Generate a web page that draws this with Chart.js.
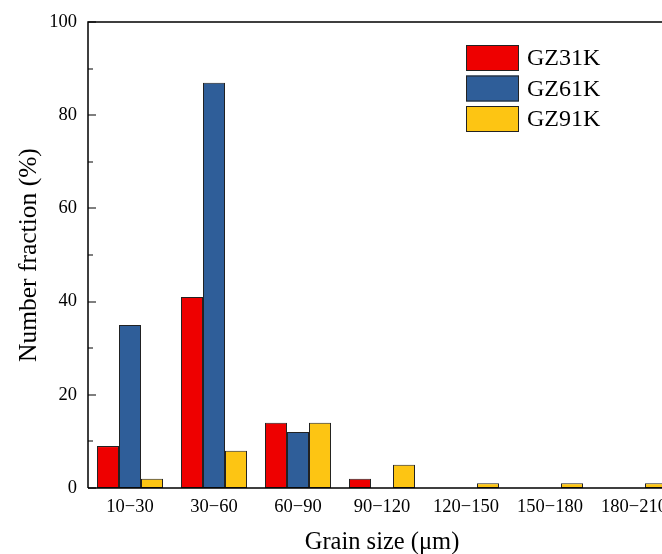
<!DOCTYPE html>
<html>
<head>
<meta charset="utf-8">
<script src="https://cdn.jsdelivr.net/npm/chart.js@4"></script>
<style>
  html, body { margin: 0; padding: 0; background: #fff; overflow: hidden; }
  #wrap { width: 700px; height: 554px; }
</style>
</head>
<body>
<div id="wrap"><canvas id="c" width="700" height="554"></canvas></div>
<script>
// grain size bins
const categories = ["10\u221230", "30\u221260", "60\u221290", "90\u2212120", "120\u2212150", "150\u2212180", "180\u2212210"];
const gz31k = [9, 41, 14, 2, 0, 0, 0];
const gz61k = [35, 87, 12, 0, 0, 0, 0];
const gz91k = [2, 8, 14, 5, 1, 1, 1];
const yMajorTicks = [0, 20, 40, 60, 80, 100];
const yMinorTicks = [10, 30, 50, 70, 90];

const FONT = "'Liberation Serif', 'Times New Roman', serif";

// frame + inward ticks + legend
const framePlugin = {
  id: "frame",
  afterDraw(chart) {
    const { ctx, chartArea: a, scales } = chart;
    const y = scales.y;
    ctx.save();
    ctx.strokeStyle = "#000";
    ctx.lineWidth = 1.5;
    ctx.beginPath();
    ctx.moveTo(a.left, a.bottom);
    ctx.lineTo(a.left, a.top);
    ctx.lineTo(a.right, a.top);
    ctx.moveTo(a.left, a.bottom);
    ctx.lineTo(a.right, a.bottom);
    ctx.stroke();
    ctx.lineWidth = 1.2;
    ctx.beginPath();
    yMajorTicks.forEach(v => {
      const p = Math.round(y.getPixelForValue(v));
      ctx.moveTo(a.left, p); ctx.lineTo(a.left + 8, p);
    });
    yMinorTicks.forEach(v => {
      const p = Math.round(y.getPixelForValue(v));
      ctx.moveTo(a.left, p); ctx.lineTo(a.left + 5, p);
    });
    ctx.stroke();

    // legend
    ctx.font = "24px " + FONT;
    ctx.textBaseline = "middle";
    chart.data.datasets.forEach((ds, i) => {
      const bx = 466, by = 45 + i * 30.5;
      ctx.fillStyle = ds.backgroundColor;
      ctx.fillRect(bx, by, 53, 26);
      ctx.strokeStyle = "#222";
      ctx.lineWidth = 1;
      ctx.strokeRect(bx + 0.5, by + 0.5, 52, 25);
      ctx.fillStyle = "#000";
      ctx.fillText(ds.label, 527, by + 14);
    });
    ctx.restore();
  }
};

new Chart(document.getElementById("c"), {
  type: "bar",
  data: {
    labels: categories,
    datasets: [
      { label: "GZ31K", data: gz31k, backgroundColor: "#ee0000" },
      { label: "GZ61K", data: gz61k, backgroundColor: "#2f5e99" },
      { label: "GZ91K", data: gz91k, backgroundColor: "#fdc513" }
    ].map(d => Object.assign(d, {
      borderColor: "#222",
      borderWidth: 1,
      borderSkipped: false,
      barPercentage: 1,
      categoryPercentage: 0.786
    }))
  },
  options: {
    responsive: false,
    animation: false,
    layout: { padding: { top: 18, right: 24, left: 0, bottom: 0 } },
    plugins: { legend: { display: false }, tooltip: { enabled: false } },
    scales: {
      x: {
        grid: { display: false, drawTicks: false },
        border: { display: false },
        ticks: { color: "#000", font: { family: FONT, size: 18.5 }, padding: 8, maxRotation: 0, autoSkip: false },
        title: { display: true, text: "Grain size (\u03bcm)", color: "#000", font: { family: FONT, size: 24.5 }, padding: { top: 0, bottom: -3 } },
        afterFit(s) { s.height = 66; }
      },
      y: {
        min: 0,
        max: 100,
        grid: { display: false, drawTicks: false },
        border: { display: false },
        ticks: { stepSize: 20, color: "#000", font: { family: FONT, size: 18.5 }, padding: 11 },
        title: { display: true, text: "Number fraction (%)", color: "#000", font: { family: FONT, size: 25.5 }, padding: { top: 14, bottom: 0 } },
        afterFit(s) { s.width = 88; }
      }
    }
  },
  plugins: [framePlugin]
});
</script>
</body>
</html>
